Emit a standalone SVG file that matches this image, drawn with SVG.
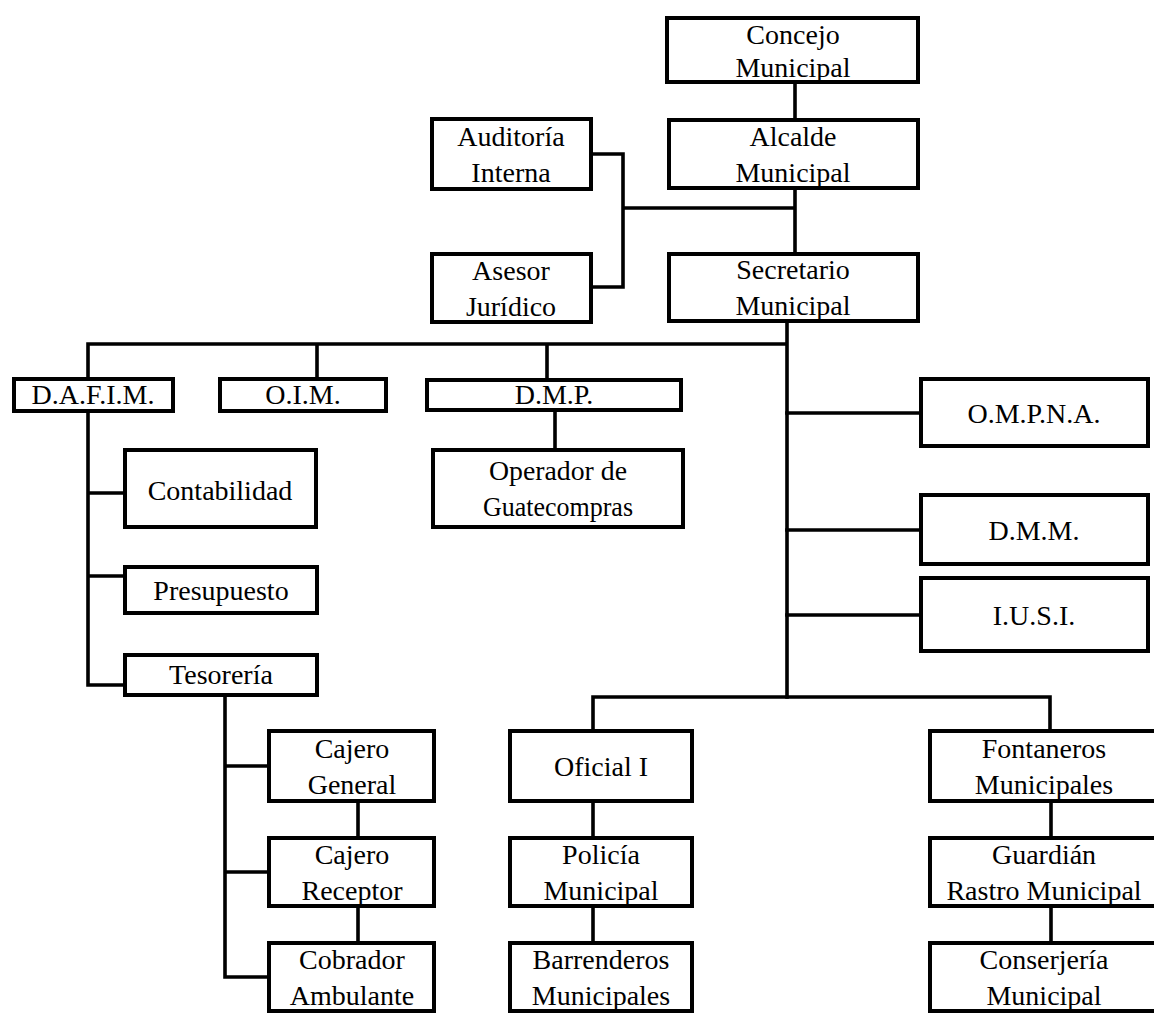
<svg xmlns="http://www.w3.org/2000/svg" width="1154" height="1015" viewBox="0 0 1154 1015">
<style>
.box{fill:#fff;stroke:#000;stroke-width:4}
.c{fill:none;stroke:#000;stroke-width:3.6;stroke-linecap:square}
text{font-family:"Liberation Serif","Times New Roman","DejaVu Serif",serif;font-size:28px;fill:#000;text-anchor:middle}
</style>
<rect width="1154" height="1015" fill="#fff"/>
<g id="connectors">
<path class="c" d="M795,84V118M795,190V252M623,208H795M623,154V287M593,154H623M593,287H623"/>
<path class="c" d="M787,323V697M88,344H787M88,344V377M317,344V377M547,344V378"/>
<path class="c" d="M88,413V685M88,493H123M88,576H123M88,685H123M555,412V448"/>
<path class="c" d="M787,413H919M787,530H919M787,615H919"/>
<path class="c" d="M593,697H1050M593,697V729M1050,697V729"/>
<path class="c" d="M225,697V977M225,766H267M225,872H267M225,977H267"/>
<path class="c" d="M358,803V836M358,908V941M593,803V836M593,908V941M1051,803V836M1051,908V941"/>
</g>
<g id="concejo"><rect class="box" x="667" y="18" width="251" height="64"/><text x="793" y="44">Concejo</text><text x="793" y="77">Municipal</text></g>
<g id="alcalde"><rect class="box" x="669" y="120" width="249" height="68"/><text x="793" y="146">Alcalde</text><text x="793" y="182">Municipal</text></g>
<g id="secretario"><rect class="box" x="669" y="254" width="249" height="67"/><text x="793" y="279">Secretario</text><text x="793" y="315">Municipal</text></g>
<g id="auditoria"><rect class="box" x="432" y="119" width="159" height="70"/><text x="511" y="146">Auditoría</text><text x="511" y="182">Interna</text></g>
<g id="asesor"><rect class="box" x="432" y="254" width="159" height="68"/><text x="511" y="280">Asesor</text><text x="511" y="316">Jurídico</text></g>
<g id="dafim"><rect class="box" x="14" y="379" width="159" height="32"/><text x="93" y="404">D.A.F.I.M.</text></g>
<g id="oim"><rect class="box" x="220" y="379" width="166" height="32"/><text x="303" y="404">O.I.M.</text></g>
<g id="dmp"><rect class="box" x="427" y="380" width="254" height="30"/><text x="554" y="404">D.M.P.</text></g>
<g id="operador"><rect class="box" x="433" y="450" width="250" height="77"/><text x="558" y="480" textLength="138" lengthAdjust="spacingAndGlyphs">Operador de</text><text x="558" y="516" textLength="150" lengthAdjust="spacingAndGlyphs">Guatecompras</text></g>
<g id="contabilidad"><rect class="box" x="125" y="450" width="191" height="77"/><text x="220" y="500">Contabilidad</text></g>
<g id="presupuesto"><rect class="box" x="125" y="567" width="192" height="46"/><text x="221" y="600">Presupuesto</text></g>
<g id="tesoreria"><rect class="box" x="125" y="655" width="192" height="40"/><text x="221" y="684">Tesorería</text></g>
<g id="ompna"><rect class="box" x="921" y="379" width="227" height="67"/><text x="1034" y="423">O.M.P.N.A.</text></g>
<g id="dmm"><rect class="box" x="921" y="495" width="227" height="69"/><text x="1034" y="540">D.M.M.</text></g>
<g id="iusi"><rect class="box" x="921" y="578" width="227" height="73"/><text x="1034" y="625">I.U.S.I.</text></g>
<g id="cajero-general"><rect class="box" x="269" y="731" width="165" height="70"/><text x="352" y="758">Cajero</text><text x="352" y="794">General</text></g>
<g id="cajero-receptor"><rect class="box" x="269" y="838" width="165" height="68"/><text x="352" y="864">Cajero</text><text x="352" y="900">Receptor</text></g>
<g id="cobrador"><rect class="box" x="269" y="943" width="165" height="68"/><text x="352" y="969">Cobrador</text><text x="352" y="1005">Ambulante</text></g>
<g id="oficial"><rect class="box" x="510" y="731" width="182" height="70"/><text x="601" y="776">Oficial I</text></g>
<g id="policia"><rect class="box" x="510" y="838" width="182" height="68"/><text x="601" y="864">Policía</text><text x="601" y="900">Municipal</text></g>
<g id="barrenderos"><rect class="box" x="510" y="943" width="182" height="68"/><text x="601" y="969">Barrenderos</text><text x="601" y="1005">Municipales</text></g>
<g id="fontaneros"><rect class="box" x="930" y="731" width="230" height="70"/><text x="1044" y="758">Fontaneros</text><text x="1044" y="794">Municipales</text></g>
<g id="guardian"><rect class="box" x="930" y="838" width="230" height="68"/><text x="1044" y="864">Guardián</text><text x="1044" y="900">Rastro Municipal</text></g>
<g id="conserjeria"><rect class="box" x="930" y="943" width="230" height="68"/><text x="1044" y="969">Conserjería</text><text x="1044" y="1005">Municipal</text></g>
</svg>
